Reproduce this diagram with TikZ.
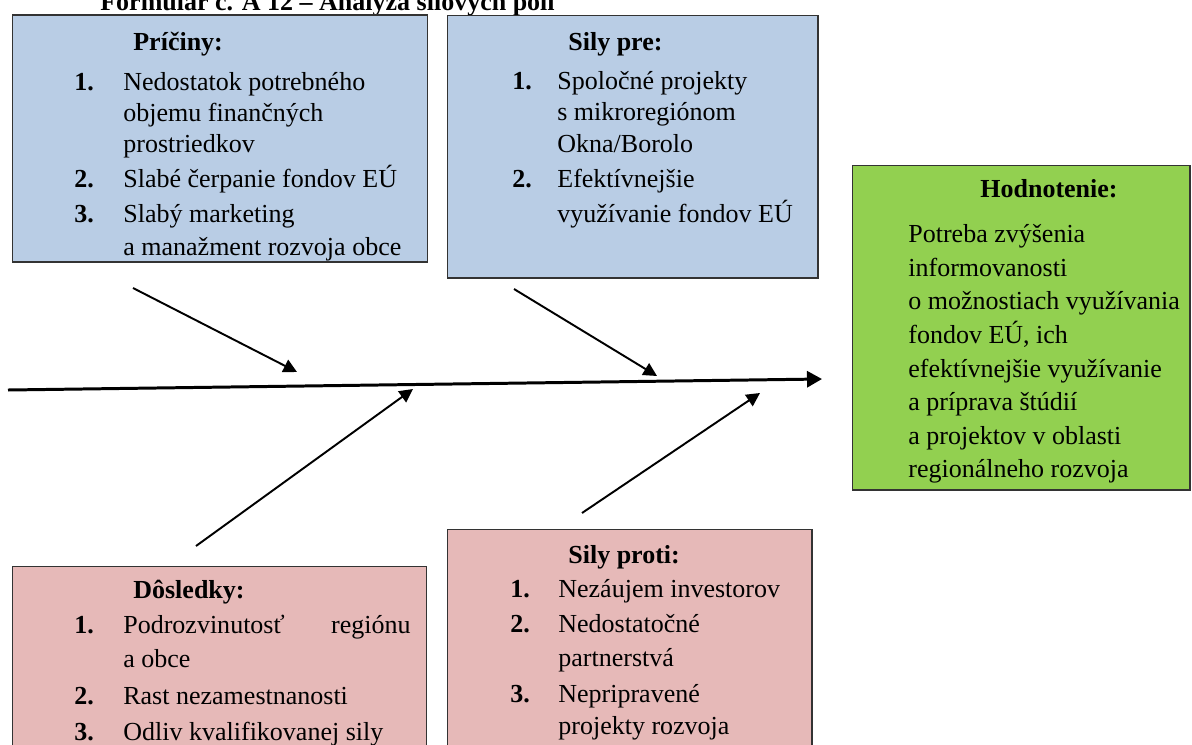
\documentclass[tikz,border=0pt]{standalone}
\usepackage{fontspec}
\setmainfont{Liberation Serif}
\usetikzlibrary{arrows.meta,positioning}

\definecolor{causeblue}{HTML}{B9CDE5}
\definecolor{againstred}{HTML}{E6B9B8}
\definecolor{resultgreen}{HTML}{92D050}

\newcommand\fishsize{\fontsize{14.8}{18}\selectfont}

\tikzset{
  box/.style={draw=black!80, line width=0.6pt, inner sep=0pt, outer sep=0pt},
  head/.style={anchor=base west, inner sep=0pt, font=\fishsize\bfseries},
  num/.style={anchor=base west, inner sep=0pt, font=\fishsize\bfseries},
  txt/.style={anchor=base west, inner sep=0pt, font=\fishsize},
  bone/.style={-{Triangle[length=0.27cm,width=0.27cm]}, line width=1.1pt},
  spine/.style={-{Triangle[length=0.3cm,width=0.32cm]}, line width=1.7pt},
}

\begin{document}
\begin{tikzpicture}[x=0.02cm, y=-0.02cm]
        \useasboundingbox (0,0) rectangle (1192,744);
        % title, cut by the page edge
        \node[head] (title) at (100,10){Formulár č. A 12 – Analýza silových polí};
        % boxes
        \node[box, fill=causeblue, minimum width=8.32cm, minimum height=4.94cm] (pricinybox) at (220,138.5){};
        \node[box, fill=causeblue, minimum width=7.42cm, minimum height=5.26cm] (silyprebox) at (632.5,146.5){};
        \node[box, fill=resultgreen, minimum width=6.76cm, minimum height=6.5cm] (hodnoteniebox) at (1021,327.5){};
        \node[box, fill=againstred, minimum width=8.3cm, minimum height=4.68cm] (dosledkybox) at (219.5,683){};
        \node[box, fill=againstred, minimum width=7.3cm, minimum height=5.42cm] (silyprotibox) at (629.5,664.5){};
        % Príčiny
        \node[head] (pricinyhead) at (133,50){Príčiny:};
        \node[num] (pricinyn1) at (74,90){1.};
        \node[txt] (pricinya) at (123,90){Nedostatok potrebného};
        \node[txt] (pricinyb) at (123,121){objemu finančných};
        \node[txt] (pricinyc) at (123,152){prostriedkov};
        \node[num] (pricinyn2) at (74,187){2.};
        \node[txt] (pricinyd) at (123,187){Slabé čerpanie fondov EÚ};
        \node[num] (pricinyn3) at (74,222){3.};
        \node[txt] (pricinye) at (123,222){Slabý marketing};
        \node[txt] (pricinyf) at (123,255){a manažment rozvoja obce};
        % Sily pre
        \node[head] (silyprehead) at (568,50){Sily pre:};
        \node[num] (silyn1) at (512,89){1.};
        \node[txt] (silya) at (557,89){Spoločné projekty};
        \node[txt] (silyb) at (557,120){s mikroregiónom};
        \node[txt] (silyc) at (557,152){Okna/Borolo};
        \node[num] (silyn2) at (512,187){2.};
        \node[txt] (silyd) at (557,187){Efektívnejšie};
        \node[txt] (silye) at (557,222){využívanie fondov EÚ};
        % Hodnotenie
        \node[head] (hodnoteniehead) at (980,197){Hodnotenie:};
        \node[txt] (hodna) at (908,242){Potreba zvýšenia};
        \node[txt] (hodnb) at (908,276){informovanosti};
        \node[txt] (hodnc) at (908,309){o možnostiach využívania};
        \node[txt] (hodnd) at (908,343){fondov EÚ, ich};
        \node[txt] (hodne) at (908,377){efektívnejšie využívanie};
        \node[txt] (hodnf) at (908,410){a príprava štúdií};
        \node[txt] (hodng) at (908,444){a projektov v oblasti};
        \node[txt] (hodnh) at (908,477){regionálneho rozvoja};
        % Dôsledky
        \node[head] (dosledkyhead) at (133,598){Dôsledky:};
        \node[num] (dosln1) at (74,633){1.};
        \node[txt] (dosla) at (123,633){Podrozvinutosť};
        \node[txt, anchor=base east] (doslb) at (411,633){regiónu};
        \node[txt] (doslc) at (123,667){a obce};
        \node[num] (dosln2) at (74,704){2.};
        \node[txt] (dosld) at (123,704){Rast nezamestnanosti};
        \node[num] (dosln3) at (74,740){3.};
        \node[txt] (dosle) at (123,740){Odliv kvalifikovanej sily};
        % Sily proti
        \node[head] (silyprotihead) at (568,563){Sily proti:};
        \node[num] (protin1) at (510,597){1.};
        \node[txt] (protia) at (558,597){Nezáujem investorov};
        \node[num] (protin2) at (510,632){2.};
        \node[txt] (protib) at (558,632){Nedostatočné};
        \node[txt] (protic) at (558,666){partnerstvá};
        \node[num] (protin3) at (510,702){3.};
        \node[txt] (protid) at (558,702){Nepripravené};
        \node[txt] (protie) at (558,734){projekty rozvoja};
        % fishbone
        \coordinate (spinestart) at (8,390);
        \coordinate (spineend) at (822,379);
        \coordinate (bonea) at (133,288);
        \coordinate (boneatip) at (297,372);
        \coordinate (boneb) at (514,289);
        \coordinate (bonebtip) at (657,376);
        \coordinate (bonec) at (196,546);
        \coordinate (bonectip) at (413,389);
        \coordinate (boned) at (582,513);
        \coordinate (bonedtip) at (760,393);
        \draw[spine] (spinestart) -- (spineend);
        \draw[bone] (bonea) -- (boneatip);
        \draw[bone] (boneb) -- (bonebtip);
        \draw[bone] (bonec) -- (bonectip);
        \draw[bone] (boned) -- (bonedtip);
    \end{tikzpicture}
\end{document}
